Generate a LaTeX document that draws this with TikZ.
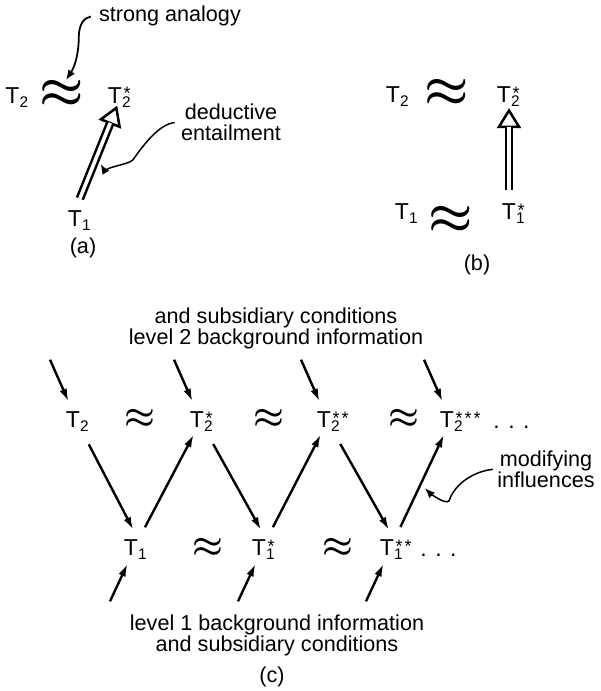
\documentclass[tikz,border=0pt]{standalone}
\usepackage{amsmath}
\usepackage{fontspec}
\setmainfont{Liberation Sans}
\usetikzlibrary{arrows.meta, calc, positioning}

% theory label: T with sub- and superscript that do not widen the node
\newcommand{\thy}[2]{T\rlap{\smash{\raisebox{-2pt}{\fontsize{7.7}{8}\selectfont #1}}}\rlap{\smash{\raisebox{1.8pt}{\fontsize{9}{9}\selectfont\kern0.8pt #2}}}}

\tikzset{
  lbl/.style={font=\fontsize{10.8}{10.5}\selectfont, inner sep=0pt, align=center},
  thy/.style={font=\fontsize{11.5}{12}\selectfont, inner sep=0pt},
  apx/.style={inner sep=0pt, font=\fontsize{19}{19}\selectfont},
  infl/.style={line width=1.2pt, -{Latex[length=6.5pt,width=3.8pt]}},
  dbl/.style={double, double distance=1.8pt, line width=1.25pt},
  opentip/.style={line width=1.25pt, -{Triangle[open, length=10pt, width=12pt]}},
  hand/.style={line width=0.75pt, -{Latex[length=5pt,width=4pt]}},
}

\begin{document}
\begin{tikzpicture}[x=0.5pt, y=-0.5pt]
	\useasboundingbox (0,0) rectangle (600,691);

	% (a)
	\node[thy] (T2a) at (12.5,95.5) {\thy{2}{}};
	\node[apx, font=\fontsize{23}{23}\selectfont] (apxa) at (62,94) {$\boldsymbol{\approx}$};
	\node[thy] (T2sa) at (115,95.5) {\thy{2}{*}};
	\node[thy] (T1a) at (75,219) {\thy{1}{}};
	\node[lbl, anchor=base] (sana) at (170,21) {strong analogy};
	\node[lbl] (deda) at (231,122) {deductive\\entailment};
	\node[lbl] (capa) at (83,248) {(a)};

	\coordinate (tipa) at ([xshift=1.5pt]T2sa.south);
	\draw[opentip, shorten >=1pt] ($(tipa)!17pt!(T1a.north)$) -- (tipa);
	\draw[dbl, shorten <=6.5pt, shorten >=10.3pt] (T1a.north) -- (tipa);

	\draw[hand, line width=0.9pt, shorten <=4pt] (sana.west) .. controls +(-14,2) and +(0,-14) .. ++(-20,22)
		.. controls +(0,18) and +(8,-12) .. ([xshift=2pt]apxa.north);
	\coordinate (dmid) at ($(T1a.north)!0.5!(tipa)$);
	\draw[hand, shorten <=3pt, shorten >=4pt] (deda.west) .. controls +(-22,2) and +(10,-14) .. ++(-48,38)
		.. controls +(-5,5) and +(6,10) .. (dmid);

	% (b)
	\node[thy] (T2b) at (393,95) {\thy{2}{}};
	\node[apx, font=\fontsize{26}{26}\selectfont] (apxb2) at (447,93) {$\boldsymbol{\approx}$};
	\node[thy] (T2sb) at (504,95) {\thy{2}{*}};
	\node[thy] (T1b) at (402,212) {\thy{1}{}};
	\node[apx, font=\fontsize{25}{25}\selectfont] (apxb1) at (451,220) {$\boldsymbol{\approx}$};
	\node[thy] (T1sb) at (509,212) {\thy{1}{*}};
	\node[lbl] (capb) at (477,265) {(b)};

	\coordinate (tipb) at (T1sb.north |- T2sb.south);
	\draw[opentip, shorten >=2.4pt] ($(tipb)!18pt!(T1sb.north)$) -- (tipb);
	\draw[dbl, shorten <=7pt, shorten >=11.7pt] (T1sb.north) -- (tipb);

	% (c)
	\node[lbl] (lvl2) at (276,328) {and subsidiary conditions\\level 2 background information};
	\foreach \x/\s/\n in {73//0, 197/*/1, 324/*\kern1pt*/2, 447/*\kern1pt*\kern1pt*/3}
		\node[thy] (t2-\n) at (\x,420) {\thy{2}{\s}};
	\foreach \x/\s/\n in {131//0, 259/*/1, 387/*\kern1pt*/2}
		\node[thy] (t1-\n) at (\x,548) {\thy{1}{\s}};
	\foreach \x/\n in {140/0, 269/1, 404/2}
		\node[apx] (a2-\n) at (\x,419) {$\boldsymbol{\approx}$};
	\foreach \x/\n in {208/0, 338/1}
		\node[apx] (a1-\n) at (\x,548) {$\boldsymbol{\approx}$};
	\node[thy, anchor=base west] (dots2) at (493,428) {. . .};
	\node[thy, anchor=base west] (dots1) at (420,556) {. . .};

	\foreach \n in {0,...,3}
	{
		\coordinate (s2-\n) at ($(t2-\n.north)+(-23,-52)$);
		\draw[infl, shorten >=5.5pt] (s2-\n) -- (t2-\n.north);
	}
	\foreach \n in {0,1,2}
	{
		\coordinate (s1-\n) at ($(t1-\n.south)+(-21,45)$);
		\draw[infl, shorten >=4pt] (s1-\n) -- (t1-\n.south);
		\draw[infl, shorten <=9pt, shorten >=5.5pt] (t2-\n.south east) -- (t1-\n.north east);
	}
	\foreach \n/\m in {0/1, 1/2, 2/3}
		\draw[infl, shorten <=7pt, shorten >=3.4pt] (t1-\n.north east) -- (t2-\m.south);

	\node[lbl] (modi) at (546,469) {modifying\\influences};
	\coordinate (mpt) at ($(t1-2.north east)!0.5!(t2-3.south)$);
	\draw[hand, shorten <=2pt, shorten >=3pt] (modi.west) .. controls +(-22,2) and +(6,-18) .. ++(-48,32)
		.. controls +(-4,4) and +(8,8) .. (mpt);

	\node[lbl] (lvl1) at (277,635) {level 1 background information\\and subsidiary conditions};
	\node[lbl] (capc) at (272,677) {(c)};
\end{tikzpicture}
\end{document}
